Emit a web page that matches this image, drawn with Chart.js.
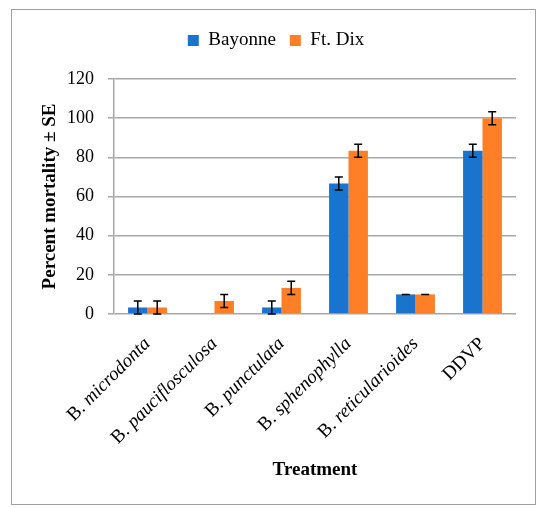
<!DOCTYPE html>
<html lang="en">
<head>
  <meta charset="UTF-8">
  <title>Percent mortality</title>
  <script src="https://cdn.jsdelivr.net/npm/chart.js"></script>
  <style>
    body { margin: 0; background: #fff; overflow: hidden; }
    #wrap { position: relative; width: 550px; height: 508px; }
    #frame { position: absolute; left: 11px; top: 9px; width: 525px; height: 496px;
             border: 1px solid #a0a0a0; box-sizing: border-box; pointer-events: none; }
  </style>
</head>
<body>
<div id="wrap">
  <canvas id="mortChart" width="550" height="508"></canvas>
  <div id="frame"></div>
</div>

<script>
  const treatments = ['B. microdonta', 'B. pauciflosculosa', 'B. punctulata', 'B. sphenophylla', 'B. reticularioides', 'DDVP'];
  const bayonne = [3.33, 0, 3.33, 66.67, 10, 83.33];
  const bayonneSE = [3.33, 0, 3.33, 3.33, 0, 3.33];
  const ftDix = [3.33, 6.67, 13.33, 83.33, 10, 100];
  const ftDixSE = [3.33, 3.33, 3.33, 3.33, 0, 3.33];
  const yTicks = [0, 20, 40, 60, 80, 100, 120];

  const serif = "'Liberation Serif', 'Times New Roman', serif";
  const gridGray = '#a8a8a8';

  // error bars drawn from the SE arrays
  const errorBars = {
    id: 'errorBars',
    afterDatasetsDraw(chart) {
      const ctx = chart.ctx;
      const ys = chart.scales.y;
      const errs = [bayonneSE, ftDixSE];
      ctx.save();
      ctx.strokeStyle = '#000';
      ctx.lineWidth = 1.5;
      chart.data.datasets.forEach((ds, di) => {
        chart.getDatasetMeta(di).data.forEach((bar, i) => {
          const v = ds.data[i];
          if (!v) return;
          const e = errs[di][i];
          const top = ys.getPixelForValue(v + e);
          const bot = ys.getPixelForValue(Math.max(0, v - e));
          const x = bar.x;
          ctx.beginPath();
          ctx.moveTo(x, top); ctx.lineTo(x, bot);
          ctx.moveTo(x - 4, top); ctx.lineTo(x + 4, top);
          ctx.moveTo(x - 4, bot); ctx.lineTo(x + 4, bot);
          ctx.stroke();
        });
      });
      ctx.restore();
    }
  };

  // rotated category labels: genus upright, species italic
  const mixedLabels = {
    id: 'mixedLabels',
    afterDraw(chart) {
      const ctx = chart.ctx;
      const xs = chart.scales.x;
      ctx.save();
      ctx.fillStyle = '#000';
      ctx.textBaseline = 'middle';
      ctx.textAlign = 'right';
      treatments.forEach((lab, i) => {
        const x = xs.getPixelForValue(i);
        const y = xs.top + 27;
        ctx.save();
        ctx.translate(x, y);
        ctx.rotate(-Math.PI / 4);
        if (lab.startsWith('B. ')) {
          const sp = lab.slice(3);
          ctx.font = 'italic 19px ' + serif;
          ctx.fillText(sp, 0, 0);
          const w = ctx.measureText(sp).width;
          ctx.font = '19px ' + serif;
          ctx.fillText('B. ', -w, 0);
        } else {
          ctx.font = '19px ' + serif;
          ctx.fillText(lab, 0, 0);
        }
        ctx.restore();
      });
      ctx.restore();
    }
  };

  // legend: fixed height so the plot starts where it should, and shifted right a bit
  const legendSpot = {
    id: 'legendSpot',
    beforeLayout(chart) {
      const lg = chart.legend;
      if (!lg || lg._patched) return;
      const fit = lg.fit;
      lg.fit = function () { fit.call(this); this.height = 62; };
      lg._patched = true;
    },
    afterLayout(chart) {
      if (chart.legend) chart.legend.left = 36;
    }
  };

  const ctx = document.getElementById('mortChart').getContext('2d');
  const mortChart = new Chart(ctx, {
    type: 'bar',
    data: {
      labels: treatments,
      datasets: [
        { label: 'Bayonne', data: bayonne, backgroundColor: '#1a73cc', borderWidth: 0 },
        { label: 'Ft. Dix', data: ftDix, backgroundColor: '#ff7f27', borderWidth: 0 }
      ]
    },
    options: {
      responsive: false,
      animation: false,
      categoryPercentage: 0.58,
      barPercentage: 1.0,
      layout: { padding: { top: 17, left: 0, right: 34, bottom: 0 } },
      plugins: {
        tooltip: { enabled: false },
        legend: {
          position: 'top',
          labels: {
            boxWidth: 11, boxHeight: 11, padding: 14,
            color: '#000',
            font: { family: serif, size: 19 }
          }
        }
      },
      scales: {
        x: {
          grid: { display: false },
          border: { display: false },
          ticks: { display: false },
          title: {
            display: true, text: 'Treatment', color: '#000',
            font: { family: serif, size: 19, weight: 'bold' },
            padding: { top: 0, bottom: 27 }
          },
          afterFit(scale) { scale.height = 194; }
        },
        y: {
          min: 0, max: 120,
          afterBuildTicks(scale) { scale.ticks = yTicks.map(v => ({ value: v })); },
          grid: { color: gridGray, lineWidth: 1.5, drawTicks: true, tickLength: 6 },
          border: { display: true, color: gridGray, width: 1.5 },
          ticks: { color: '#000', padding: 14, font: { family: serif, size: 18 } },
          title: {
            display: true, text: 'Percent mortality ± SE', color: '#000',
            font: { family: serif, size: 19, weight: 'bold' },
            padding: { top: 39, bottom: 0 }
          },
          afterFit(scale) { scale.width = 114; }
        }
      }
    },
    plugins: [errorBars, mixedLabels, legendSpot]
  });
</script>
</body>
</html>
